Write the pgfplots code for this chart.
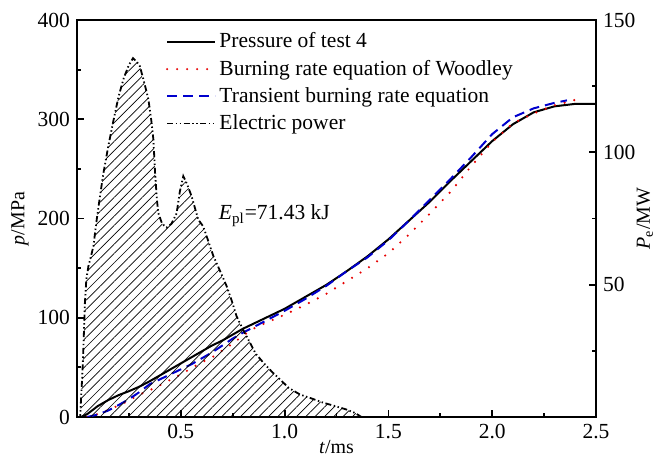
\documentclass[border=0pt]{standalone}
\usepackage{fontspec}
\setmainfont{Liberation Serif}
\usepackage{pgfplots}
\pgfplotsset{compat=1.18}
\usetikzlibrary{patterns.meta}
\newcommand{\fs}{\fontsize{10.75bp}{12.9bp}\selectfont}
\definecolor{myred}{RGB}{230,0,0}
\definecolor{myblue}{RGB}{0,0,205}
\pgfplotstableread{
t p
0.02 0
0.05 3
0.10 11
0.15 17
0.20 22
0.25 26
0.30 30.5
0.35 36
0.40 42
0.45 48
0.50 54
0.55 60
0.60 66
0.65 72
0.70 77
0.75 83
0.80 89
0.90 99
1.00 109
1.10 121
1.20 133
1.30 147
1.40 162
1.50 179
1.60 198
1.70 217
1.80 238
1.90 258
2.00 278
2.10 295
2.20 307
2.30 313
2.40 315.5
2.50 315.5
}\pressure
\pgfplotstableread{
t p
0.05 0
0.10 2.5
0.15 6.5
0.20 12
0.25 18
0.30 25
0.35 33
0.40 38
0.45 43
0.50 48
0.55 53
0.60 59
0.65 65
0.70 72
0.75 79
0.80 85
0.90 96
1.00 107
1.10 119
1.20 132
1.30 147
1.40 161
1.50 178
1.60 198
1.70 219
1.80 240
1.90 262
2.00 285
2.10 302
2.20 311
2.30 316.5
2.36 319
}\transient
\pgfplotstableread{
t p
0.05 0
0.10 3
0.15 7
0.20 11.5
0.25 16.5
0.30 22.5
0.35 27
0.40 32
0.45 37.5
0.50 43
0.55 49
0.60 55
0.65 60
0.70 67
0.75 74
0.80 82
0.85 89
0.90 94
1.00 103
1.10 113
1.20 124
1.30 137
1.40 150
1.50 165
1.60 184
1.70 205
1.80 227
1.90 253
2.00 277
2.10 296
2.20 306
2.30 314
2.40 319.5
}\woodley
\pgfplotstableread{
t P
0.000 0
0.015 0
0.025 15
0.030 24
0.038 43
0.045 52
0.055 57
0.065 60
0.079 64.5
0.095 74.6
0.110 83
0.127 92
0.150 102
0.175 111.8
0.200 121
0.225 128
0.250 133
0.270 135.6
0.290 134
0.303 132.5
0.325 126
0.344 120
0.358 112
0.368 104.8
0.376 92.4
0.385 82
0.392 77
0.410 73
0.432 71.6
0.455 73
0.480 77
0.495 85
0.512 91
0.530 88
0.552 83.4
0.584 74.6
0.608 72
0.630 67
0.657 60.8
0.690 55
0.721 49.4
0.745 44
0.769 38
0.800 33
0.825 29.3
0.860 24
0.898 20.5
0.940 17
0.978 14.2
1.020 11
1.074 8.5
1.130 7
1.186 5.4
1.240 4.2
1.299 2.8
1.340 1.5
1.370 0
}\power
\begin{document}
\begin{tikzpicture}
\pgfplotsset{
  common/.style={
    width=259.5bp, height=198.5bp, scale only axis,
    xmin=0, xmax=2.5,
    axis line style={line width=1bp},
    every tick/.style={line width=0.9bp, black},
    major tick length=3.5bp, minor tick length=2bp,
    tick label style={font=\fs},
    label style={font=\fs},
    /pgf/number format/assume math mode=true,
  }
}
\begin{axis}[common, name=ax,
  ymin=0, ymax=400,
  xtick={0.5,1,1.5,2,2.5}, minor xtick={0.25,0.75,1.25,1.75,2.25},
  ytick={0,100,200,300,400}, minor ytick={50,150,250,350},
  xtick pos=lower, ytick pos=left,
  xticklabel style={/pgf/number format/.cd, fixed, fixed zerofill, precision=1},
  yticklabel style={/pgf/number format/.cd, fixed, precision=0},
  xlabel={\textit{t}/ms}, ylabel={\textit{p}/MPa},
  every axis x label/.style={at={(axis description cs:0.5,-0.076)}, anchor=center},
  every axis y label/.style={at={(axis description cs:-0.11,0.5)}, rotate=90, anchor=center},
  legend style={at={(axis description cs:0.159,0.987)}, anchor=north west, draw=none, fill=none,
    font=\fs, row sep=1.4bp, nodes={inner sep=1.6bp}},
  legend cell align=left,
  legend image code/.code={\draw[#1] (0bp,0bp) -- (24bp,0bp);},
]
\addplot[black, line width=1bp] table[x=t,y=p] {\pressure};
\addlegendentry{Pressure of test 4}
\addplot[myred, line width=1.2bp, line cap=round, dash pattern=on 0bp off 5bp] table[x=t,y=p] {\woodley};
\addlegendentry{Burning rate equation of Woodley}
\addplot[myblue, line width=1bp, dash pattern=on 5bp off 3bp] table[x=t,y=p] {\transient};
\addlegendentry{Transient burning rate equation}
\addlegendimage{black, line width=0.9bp, dash pattern=on 3bp off 1.3bp on 0.7bp off 1.3bp on 0.7bp off 1.3bp}
\addlegendentry{Electric power}
\node[anchor=west, font=\fs] at (axis cs:0.65,203) {\textit{E}\textsubscript{pl}=71.43 kJ};
\end{axis}
\begin{axis}[common,
  ymin=0, ymax=150,
  hide x axis,
  ytick={50,100,150}, minor ytick={25,75,125},
  ytick pos=right, yticklabel pos=right,
  ylabel={\textit{P}\textsubscript{e}/MW},
  every axis y label/.style={at={(axis description cs:1.094,0.5)}, rotate=90, anchor=center},
]
\addplot[draw=none, pattern={Lines[angle=45, distance=3.3bp, line width=0.35bp]}] table[x=t,y=P] {\power} \closedcycle;
\addplot[black, line width=0.9bp, dash pattern=on 3bp off 1.3bp on 0.7bp off 1.3bp on 0.7bp off 1.3bp] table[x=t,y=P] {\power};
\end{axis}
\pgfresetboundingbox
\path[use as bounding box] ([shift={(-38.5bp,-22bp)}]ax.south west) rectangle ([shift={(36.5bp,10bp)}]ax.north east);
\end{tikzpicture}
\end{document}
